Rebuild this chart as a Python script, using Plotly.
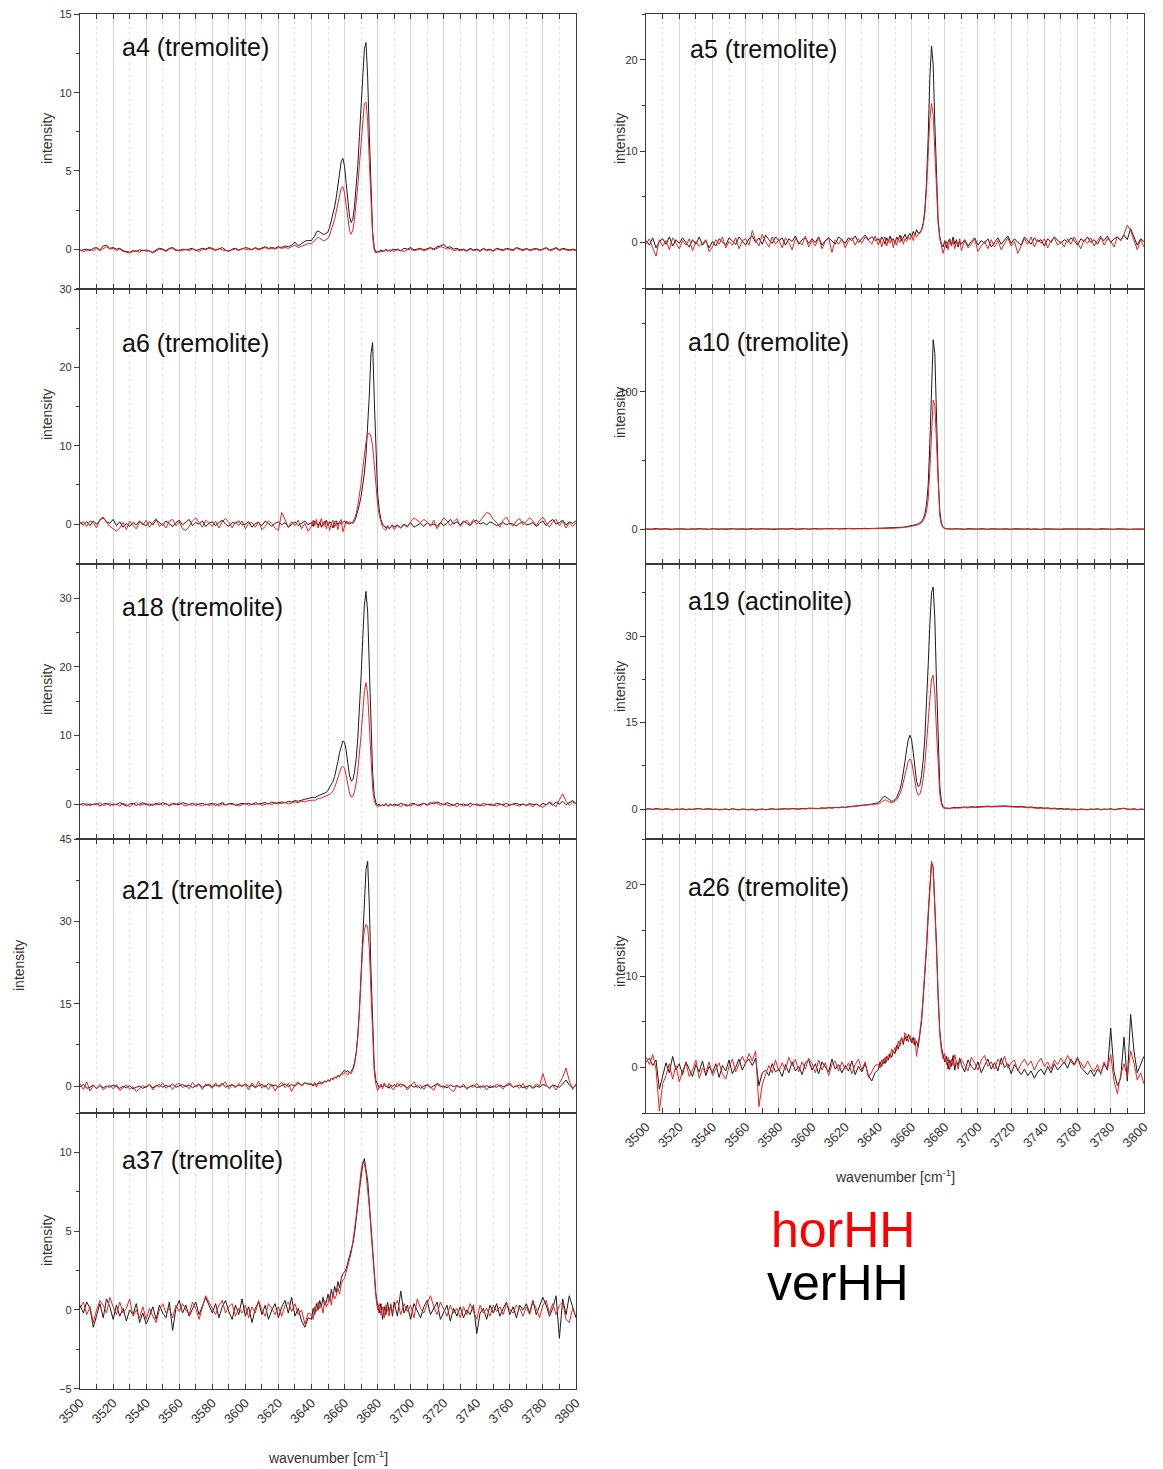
import plotly.graph_objects as go

W, H = 1163, 1469

# ---------------- wavenumber grid (cm^-1) ----------------
WN_LO = [3500, 3502, 3504, 3506, 3508, 3510, 3512, 3514, 3516, 3518,
         3520, 3522, 3524, 3526, 3528, 3530, 3532, 3534, 3536, 3538,
         3540, 3542, 3544, 3546, 3548, 3550, 3552, 3554, 3556, 3558,
         3560, 3562, 3564, 3566, 3568, 3570, 3572, 3574, 3576, 3578,
         3580, 3582, 3584, 3586, 3588, 3590, 3592, 3594, 3596, 3598,
         3600, 3602, 3604, 3606, 3608, 3610, 3612, 3614, 3616, 3618,
         3620, 3622, 3624, 3626, 3628, 3630, 3632, 3634, 3636, 3638]
WN_MID = [3640, 3641, 3642, 3643, 3644, 3645, 3646, 3647, 3648, 3649,
          3650, 3651, 3652, 3653, 3654, 3655, 3656, 3657, 3658, 3659,
          3660, 3661, 3662, 3663, 3664, 3665, 3666, 3667, 3668, 3669,
          3670, 3671, 3672, 3673, 3674, 3675, 3676, 3677, 3678, 3679,
          3680, 3681, 3682, 3683, 3684, 3685, 3686, 3687, 3688, 3689]
WN_HI = [3690, 3692, 3694, 3696, 3698, 3700, 3702, 3704, 3706, 3708,
         3710, 3712, 3714, 3716, 3718, 3720, 3722, 3724, 3726, 3728,
         3730, 3732, 3734, 3736, 3738, 3740, 3742, 3744, 3746, 3748,
         3750, 3752, 3754, 3756, 3758, 3760, 3762, 3764, 3766, 3768,
         3770, 3772, 3774, 3776, 3778, 3780, 3782, 3784, 3786, 3788,
         3790, 3792, 3794, 3796, 3798, 3800]
WAVENUMBER = WN_LO + WN_MID + WN_HI

X_TICKS = [3500, 3520, 3540, 3560, 3580, 3600, 3620, 3640, 3660, 3680,
           3700, 3720, 3740, 3760, 3780, 3800]

# ---------------- a4 ----------------
A4_VER = [
    -0.1, -0.05, 0.0, -0.1, 0.05, 0.1, -0.05, 0.2, 0.25, 0.05,
    0.1, 0.0, 0.05, -0.1, -0.15, -0.2, -0.1, -0.15, -0.05, -0.1,
    -0.05, -0.15, -0.2, -0.05, 0.05, 0.0, -0.1, 0.05, 0.1, -0.05,
    -0.1, 0.0, -0.05, 0.0, 0.05, -0.1, -0.05, 0.05, 0.0, 0.1,
    0.05, -0.05, 0.0, 0.1, -0.05, -0.15, 0.0, 0.05, -0.05, 0.0,
    0.1, 0.05, -0.05, 0.1, 0.0, 0.1, 0.15, 0.05, 0.1, 0.05,
    0.15, 0.1, 0.2, 0.15, 0.25, 0.45, 0.2, 0.35, 0.5, 0.55,
] + [
    0.55, 0.7, 0.85, 1.1, 1.15, 1.1, 1.0, 0.95, 0.95, 1.0,
    1.1, 1.4, 1.8, 2.2, 2.7, 3.3, 4.0, 4.9, 5.6, 5.8,
    5.3, 4.2, 3.0, 2.1, 1.7, 1.9, 2.7, 3.8, 5.3, 7.2,
    9.0, 11.0, 12.8, 13.2, 11.0, 7.3, 3.6, 1.1, 0.1, -0.2,
    -0.15, -0.2, -0.05, -0.15, -0.1, 0.0, -0.1, -0.05, -0.15, 0.0,
] + [
    -0.05, 0.0, -0.1, 0.05, 0.0, 0.1, -0.05, 0.0, 0.05, -0.05,
    0.05, 0.1, 0.0, 0.15, 0.2, 0.3, 0.1, 0.15, 0.0, 0.05,
    -0.05, 0.0, -0.1, 0.05, -0.05, 0.0, -0.1, 0.05, -0.05, 0.0,
    -0.1, 0.05, 0.0, -0.05, 0.05, 0.0, -0.05, 0.1, 0.0, -0.05,
    0.05, -0.05, 0.0, 0.05, -0.05, 0.0, 0.1, -0.05, 0.0, 0.1,
    -0.05, 0.05, 0.0, -0.05, 0.0, -0.05,
]
A4_HOR = [
    -0.05, -0.15, -0.1, 0.0, -0.1, 0.05, -0.1, 0.05, 0.15, 0.0,
    0.05, -0.1, 0.0, -0.15, -0.2, -0.25, -0.15, -0.1, -0.2, -0.05,
    -0.15, -0.1, -0.25, -0.1, 0.0, -0.05, -0.15, 0.0, 0.05, -0.1,
    -0.05, -0.1, 0.0, -0.1, 0.0, -0.05, -0.15, 0.0, -0.05, 0.05,
    0.0, -0.1, 0.05, -0.05, -0.1, -0.1, -0.05, 0.0, -0.1, 0.05,
    0.0, -0.05, 0.0, 0.05, -0.05, 0.05, 0.1, 0.0, 0.05, 0.0,
    0.1, 0.05, 0.1, 0.05, 0.15, 0.25, 0.1, 0.2, 0.3, 0.35,
] + [
    0.35, 0.45, 0.55, 0.7, 0.75, 0.7, 0.6, 0.55, 0.55, 0.6,
    0.7, 0.9, 1.2, 1.5, 1.9, 2.4, 2.9, 3.5, 3.9, 4.0,
    3.6, 2.8, 1.9, 1.2, 0.95, 1.2, 1.9, 2.9, 4.0, 5.4,
    6.8, 8.3, 9.3, 9.4, 8.2, 5.6, 2.8, 0.8, -0.1, -0.25,
    -0.2, -0.1, -0.2, -0.1, -0.15, -0.05, -0.15, -0.1, -0.05, -0.1,
] + [
    -0.15, -0.05, -0.1, -0.15, -0.05, 0.0, -0.1, -0.05, 0.0, -0.1,
    0.0, 0.05, -0.05, 0.05, 0.15, 0.1, 0.0, 0.05, -0.1, -0.05,
    -0.1, -0.05, -0.15, 0.0, -0.1, -0.05, -0.15, 0.0, -0.1, -0.05,
    -0.15, 0.0, -0.05, -0.1, 0.0, -0.05, -0.1, 0.05, -0.05, -0.1,
    0.0, -0.1, -0.05, 0.0, -0.1, -0.05, 0.05, -0.1, -0.05, 0.05,
    -0.1, 0.0, -0.05, -0.1, -0.05, -0.1,
]

# ---------------- a6 ----------------
A6_VER = [
    0.2, -0.1, 0.3, -0.2, 0.4, 0.0, 0.5, 0.8, 0.3, 0.1,
    0.6, -0.2, 0.3, -0.4, 0.1, -0.3, 0.2, -0.1, 0.4, 0.0,
    -0.2, 0.3, -0.1, 0.5, 0.2, -0.2, 0.4, 0.1, -0.3, 0.2,
    0.5, -0.1, 0.3, 0.6, -0.2, 0.2, 0.0, 0.4, -0.3, 0.1,
    0.3, -0.2, 0.2, 0.5, 0.0, -0.3, 0.2, 0.1, 0.4, -0.1,
    0.0, 0.3, -0.4, 0.1, 0.2, -0.2, 0.4, 0.0, -0.3, 0.1,
    0.3, -0.1, 0.2, -0.4, 0.0, 0.3, -0.2, 0.1, 0.4, -0.1,
] + [
    0.2, -0.3, 0.4, 0.1, -0.2, 0.3, -0.4, 0.2, 0.0, 0.5,
    -0.2, 0.3, 0.1, -0.5, 0.2, 0.4, -0.1, 0.3, 0.0, 0.2,
    0.4, 0.1, 0.3, 0.0, 0.2, 0.1, 0.4, 0.9, 1.6, 2.5,
    3.5, 4.8, 6.5, 8.8, 12.0, 16.5, 21.8, 23.2, 16.0, 8.5,
    4.0, 1.8, 0.6, 0.0, -0.3, -0.5, -0.2, -0.6, -0.3, -0.1,
] + [
    -0.4, -0.1, -0.5, 0.0, -0.3, 0.2, -0.4, -0.1, 0.1, -0.3,
    0.2, -0.1, 0.0, -0.3, 0.2, -0.2, 0.1, 0.6, 0.0, 0.3,
    -0.1, 0.4, 0.1, -0.2, 0.3, 0.5, 0.0, 0.2, -0.1, 0.3,
    0.1, -0.2, 0.0, 0.2, -0.1, 0.1, 0.0, -0.2, 0.1, 0.3,
    -0.1, 0.0, 0.2, -0.3, 0.1, 0.4, -0.2, 0.3, 0.6, 0.0,
    0.2, 0.5, -0.1, 0.3, 0.1, 0.4,
]
A6_HOR = [
    0.1, 0.3, -0.3, 0.4, 0.2, -0.5, 0.6, 0.9, 0.2, -0.3,
    -0.6, -0.9, -0.5, 0.2, -0.7, 0.4, -0.2, -0.6, 0.3, -0.1,
    0.5, -0.4, 0.2, 0.7, -0.3, 0.1, -0.5, 0.4, 0.6, -0.2,
    0.3, -0.6, -0.8, -0.3, 0.4, 0.8, 0.2, -0.4, 0.5, 0.1,
    -0.3, 0.4, -0.5, 0.3, 0.7, 0.2, -0.5, 0.3, -0.2, 0.4,
    -0.6, 0.1, 0.2, -0.4, 0.3, -0.7, -0.3, 0.4, 0.1, -0.5,
    -0.8, 1.5, 0.6, -0.4, 0.3, -0.2, 0.5, -0.6, 0.1, -0.9,
] + [
    -0.3, 0.5, -0.2, 0.6, -0.5, 0.2, 0.7, -0.3, 0.4, -0.6,
    0.3, -0.8, 0.1, 0.5, -0.4, 0.2, -0.7, 0.3, 0.6, -1.0,
    -0.2, 0.4, 0.0, 0.3, 0.1, 0.3, 0.7, 1.3, 2.3, 3.6,
    5.2, 7.0, 8.9, 10.5, 11.5, 11.6, 11.2, 10.0, 7.6, 4.8,
    2.6, 1.1, 0.2, -0.4, -0.6, -0.8, -0.3, -0.6, -0.4, -0.2,
] + [
    -0.7, -0.2, -0.5, -0.1, -0.4, 0.3, 0.8, 0.5, 0.2, 0.6,
    0.3, -0.3, 0.5, -0.6, 0.2, 0.8, 0.4, -0.2, 0.3, 0.7,
    -0.3, 0.2, 0.5, -0.1, 0.6, 0.0, 0.4, 0.9, 1.5, 1.3,
    0.6, 0.2, -0.4, 0.5, 0.9, 0.1, -0.3, 0.4, 0.7, -0.1,
    0.3, 0.8, 0.4, -0.2, 0.5, 0.9, 0.2, -0.4, 0.3, 0.6,
    -0.2, 0.4, -0.5, 0.2, -0.3, 0.1,
]

# ---------------- a18 ----------------
A18_VER = [
    -0.1, 0.1, -0.2, 0.0, -0.1, 0.1, -0.3, 0.0, 0.1, -0.2,
    0.0, -0.1, 0.2, -0.1, -0.3, 0.0, 0.1, -0.2, 0.0, 0.2,
    -0.1, 0.0, -0.2, 0.1, -0.1, 0.2, 0.0, -0.2, 0.1, 0.0,
    -0.1, 0.2, 0.0, -0.1, 0.1, -0.2, 0.0, 0.1, -0.1, 0.0,
    0.1, -0.2, 0.0, 0.2, -0.1, 0.0, 0.1, -0.2, 0.0, 0.1,
    0.0, 0.1, -0.1, 0.2, 0.0, 0.1, 0.2, 0.0, 0.3, 0.1,
    0.2, 0.3, 0.2, 0.4, 0.3, 0.5, 0.4, 0.6, 0.7, 0.8,
] + [
    0.9, 1.0, 0.9, 1.1, 1.2, 1.3, 1.4, 1.5, 1.6, 1.7,
    2.0, 2.4, 2.8, 3.3, 4.0, 5.0, 6.2, 7.5, 8.6, 9.2,
    9.0, 7.8, 5.9, 4.2, 3.4, 3.5, 4.6, 6.5, 9.5, 13.5,
    18.5, 24.0, 29.0, 31.0, 28.0, 20.0, 11.0, 4.5, 1.2, 0.2,
    -0.2, 0.0, -0.3, -0.1, -0.2, 0.1, -0.3, -0.1, 0.0, -0.2,
] + [
    0.0, -0.2, 0.1, -0.1, -0.3, 0.0, 0.1, -0.2, 0.0, 0.1,
    -0.1, 0.2, 0.0, 0.3, 0.1, -0.1, 0.2, 0.0, -0.2, 0.1,
    -0.1, 0.0, -0.2, 0.1, -0.1, 0.0, -0.3, 0.1, -0.1, 0.0,
    -0.2, 0.1, 0.0, -0.1, 0.1, -0.2, 0.0, 0.1, -0.1, 0.0,
    -0.2, 0.1, -0.1, 0.0, -0.3, 0.1, -0.1, 0.2, -0.2, 0.3,
    0.0, 0.4, -0.1, 0.2, 0.5, 0.1,
]
A18_HOR = [
    0.0, -0.2, 0.1, -0.3, 0.0, -0.1, 0.2, -0.2, -0.1, 0.1,
    -0.2, 0.0, -0.3, 0.1, -0.1, -0.4, 0.0, 0.2, -0.2, -0.1,
    0.1, -0.3, 0.0, -0.1, 0.2, -0.2, 0.1, -0.3, 0.0, -0.1,
    0.2, -0.1, -0.3, 0.0, -0.2, 0.1, -0.1, -0.3, 0.0, -0.2,
    -0.1, 0.1, -0.3, 0.0, -0.2, 0.1, -0.1, 0.0, -0.3, -0.1,
    0.1, -0.2, 0.0, -0.1, 0.1, -0.2, 0.0, 0.1, -0.1, 0.2,
    0.0, 0.1, 0.2, 0.0, 0.2, 0.3, 0.2, 0.4, 0.3, 0.5,
] + [
    0.5, 0.6, 0.5, 0.7, 0.8, 0.8, 0.9, 1.0, 1.0, 1.1,
    1.2, 1.4, 1.6, 1.9, 2.4, 3.0, 3.8, 4.6, 5.3, 5.5,
    5.2, 4.2, 2.8, 1.6, 1.0, 1.1, 1.8, 3.0, 4.8, 7.2,
    10.0, 13.3, 16.5, 17.7, 16.0, 11.5, 6.0, 2.2, 0.5, -0.2,
    -0.4, -0.2, -0.3, -0.1, -0.3, 0.0, -0.2, -0.3, -0.1, -0.2,
] + [
    -0.3, -0.1, -0.4, 0.0, -0.2, -0.3, 0.0, -0.1, -0.3, 0.1,
    -0.2, 0.0, 0.3, 0.1, -0.2, 0.0, -0.1, -0.3, -0.1, -0.4,
    0.0, -0.3, -0.1, -0.4, 0.0, -0.2, -0.1, -0.3, 0.0, -0.2,
    -0.1, -0.3, 0.0, -0.2, -0.4, -0.1, 0.0, -0.2, -0.3, 0.0,
    -0.2, -0.1, -0.4, 0.0, -0.3, -0.5, -0.1, 0.3, 0.0, -0.4,
    0.6, 1.5, 0.4, -0.2, 0.3, 0.0,
]

# ---------------- a21 ----------------
A21_VER = [
    -0.1, 0.3, -0.4, -0.2, 0.2, -0.5, 0.1, -0.3, 0.0, -0.2,
    0.2, -0.1, -0.4, 0.0, -0.3, 0.1, -0.5, -0.2, 0.0, -0.4,
    -0.1, 0.2, -0.3, 0.0, 0.3, -0.2, 0.1, -0.1, 0.4, -0.2,
    0.0, 0.3, -0.1, 0.2, -0.3, 0.1, 0.4, -0.2, 0.0, 0.3,
    -0.1, 0.2, 0.0, 0.5, -0.2, 0.1, 0.3, -0.1, 0.2, 0.0,
    0.4, -0.1, 0.2, -0.3, 0.1, 0.3, -0.2, 0.5, 0.0, 0.2,
    -0.2, 0.1, 0.4, -0.1, 0.3, 0.0, 0.5, 0.2, 0.6, 0.4,
] + [
    0.3, 0.0, 0.5, 0.2, 0.6, 0.4, 0.7, 0.5, 0.9, 0.8,
    1.1, 1.0, 1.4, 1.3, 1.6, 1.5, 1.9, 1.8, 2.2, 2.6,
    2.9, 2.6, 2.8, 2.4, 2.7, 3.2, 4.2, 6.0, 9.0, 14.0,
    20.0, 27.0, 34.0, 39.5, 41.0, 33.0, 21.0, 10.0, 3.5, 1.0,
    0.2, -0.3, 0.1, -0.2, 0.3, -0.1, 0.0, -0.4, 0.2, -0.1,
] + [
    0.3, -0.1, 0.4, 0.0, -0.3, 0.2, -0.2, 0.1, -0.4, 0.0,
    0.2, -0.3, 0.1, 0.4, -0.1, 0.0, -0.3, 0.2, -0.1, 0.1,
    -0.2, 0.0, -0.4, -0.1, 0.2, -0.3, 0.0, -0.2, 0.1, -0.3,
    0.0, -0.2, 0.2, -0.1, 0.1, 0.3, -0.2, 0.0, 0.2, -0.3,
    -0.1, 0.1, -0.4, 0.0, -0.2, 0.3, 0.1, -0.3, 0.2, 0.0,
    -0.2, 0.4, 1.1, 0.2, -0.3, 0.1,
]
A21_HOR = [
    0.4, -0.6, 0.8, -0.9, 0.1, -0.4, 0.3, -0.7, -0.2, 0.2,
    -0.5, 0.3, -0.8, -0.3, 0.2, -0.6, -0.1, -1.0, -0.4, 0.1,
    -0.3, 0.4, -0.7, 0.2, -0.2, 0.6, -0.4, 0.1, -0.6, 0.3,
    0.5, -0.3, 0.2, -0.5, 0.7, -0.1, 0.3, -0.6, 0.4, 0.1,
    -0.4, 0.6, -0.2, 0.3, 0.8, -0.5, 0.2, -0.3, 0.5, -0.1,
    0.3, -0.7, 0.6, -0.2, 0.9, -0.4, 0.2, -0.6, 0.4, -0.9,
    0.1, 0.7, -0.3, 0.5, -1.0, 0.3, 0.8, 0.0, 0.6, 0.3,
] + [
    0.5, 0.1, 0.7, -0.2, 0.4, 0.9, 0.3, 0.6, 1.0, 0.7,
    1.2, 0.8, 1.5, 1.1, 1.7, 1.4, 2.0, 1.6, 2.3, 2.1,
    2.5, 2.3, 2.0, 2.6, 2.2, 2.9, 3.8, 5.8, 8.8, 13.5,
    19.5, 25.5, 28.5, 29.5, 29.0, 25.0, 17.0, 8.0, 2.5, 0.3,
    -0.8, -0.2, 0.4, -0.5, 0.6, 0.1, -0.3, 0.5, -0.1, -0.6,
] + [
    -0.5, 0.6, -0.2, 0.3, -0.7, 0.1, 0.8, -0.3, 0.2, -0.6,
    0.4, -0.1, -0.8, 0.5, 0.2, -0.4, 0.3, -0.6, -1.0, 0.1,
    -0.3, 0.4, -0.6, 0.0, -0.2, 0.5, -0.4, 0.2, -0.7, 0.1,
    -0.3, 0.4, 0.0, -0.5, 0.3, 0.6, -0.2, 0.1, -0.4, 0.5,
    -0.6, 0.2, -0.3, 0.4, 0.0, 2.3, 0.3, -0.5, 0.1, -0.7,
    0.5, 1.6, 3.3, 1.0, -0.6, 0.4,
]

# ---------------- a37 ----------------
A37_VER = [
    0.3, -0.2, 0.5, 0.1, -1.1, -0.3, 0.4, -0.5, 0.7, 0.2,
    -0.6, 0.3, -0.4, 0.1, -0.7, 0.0, -0.3, 0.4, -0.8, -0.2,
    -0.9, -0.4, 0.2, -0.6, 0.3, -0.2, -0.5, 0.5, -1.3, 0.1,
    0.6, -0.2, 0.3, -0.4, 0.1, 0.5, -0.3, 0.2, 0.8, 0.3,
    -0.2, 0.4, -0.5, 0.2, 0.6, -0.1, -0.6, 0.3, -0.3, 0.7,
    -0.4, 0.2, -0.8, 0.1, 0.5, -0.3, 0.3, -0.6, 0.0, 0.4,
    -0.5, 0.2, 0.6, -0.2, 0.8, -0.4, 0.1, -0.7, -1.1, -0.5,
] + [
    -0.6, 0.1, -0.3, 0.4, 0.0, 0.6, 0.2, 0.8, 0.3, 0.5,
    1.0, 0.6, 1.3, 0.8, 1.5, 1.1, 1.8, 1.4, 2.0, 2.3,
    2.4, 2.6, 3.0, 3.3, 3.7, 4.2, 4.8, 5.6, 6.6, 7.6,
    8.6, 9.2, 9.6, 9.0, 8.2, 6.8, 5.2, 3.6, 2.2, 1.0,
    0.3, -0.2, 0.4, -0.6, 0.2, -0.3, 0.5, -0.1, 0.3, -0.4,
] + [
    0.5, -0.4, 1.2, -0.2, 0.3, -0.6, 0.4, 0.0, -0.5, 0.2,
    0.6, -0.3, 0.1, 0.5, -0.6, -0.2, 0.3, -0.7, 0.1, -0.4,
    0.2, -0.5, 0.0, -0.3, 0.3, -1.5, -0.2, 0.1, -0.6, 0.3,
    -0.2, 0.4, -0.4, 0.1, 0.5, -0.3, 0.2, -0.5, 0.3, 0.0,
    0.4, -0.2, 0.6, -0.3, 0.2, 0.8, 0.3, -0.4, 0.1, 0.9,
    -1.8, 0.7, -0.3, 0.9, 0.2, -0.5,
]
A37_HOR = [
    0.1, 0.5, -0.3, 0.2, -0.8, 0.0, 0.6, 0.3, -0.2, 0.8,
    0.2, -0.3, 0.5, -0.2, 0.1, 0.7, -0.4, 0.0, -0.5, 0.2,
    -0.6, 0.1, -0.4, -0.8, 0.0, 0.4, -0.2, 0.1, -0.5, 0.3,
    -0.1, 0.4, 0.0, -0.3, 0.5, 0.1, -0.6, 0.2, 0.9, 0.5,
    0.1, -0.3, 0.3, 0.6, -0.2, 0.2, 0.4, -0.4, 0.1, -0.2,
    0.3, -0.5, 0.2, -0.2, 0.6, 0.0, -0.4, 0.4, 0.1, -0.3,
    0.2, -0.4, 0.3, 0.5, -0.1, 0.4, -0.3, 0.0, -0.9, -0.2,
] + [
    -0.3, -0.6, 0.2, -0.1, 0.5, 0.1, 0.3, -0.2, 0.6, 0.2,
    0.4, 0.9, 0.3, 1.1, 0.7, 0.9, 1.4, 1.0, 1.6, 1.9,
    2.0, 2.4, 2.7, 3.1, 3.6, 4.3, 5.0, 5.9, 6.9, 7.9,
    8.8, 9.4, 9.3, 8.7, 7.8, 6.5, 5.0, 3.4, 2.0, 0.8,
    0.0, 0.4, -0.3, 0.2, -0.5, 0.3, 0.0, -0.4, 0.4, -0.2,
] + [
    0.2, 0.6, -0.3, 0.4, -0.1, 0.3, -0.5, 0.7, 0.1, -0.2,
    0.4, 0.9, 0.2, -0.3, 0.5, 0.0, -0.4, 0.3, -0.2, 0.1,
    -0.5, 0.2, -0.3, 0.4, -0.1, -0.6, 0.3, -0.2, 0.1, -0.4,
    0.3, -0.1, 0.2, -0.3, 0.4, 0.0, -0.2, 0.3, 0.1, -0.4,
    0.2, -0.3, 0.5, 0.1, -0.5, 0.3, 0.6, -0.2, 0.4, -0.3,
    0.3, 0.5, -0.6, -0.8, 0.1, -0.4,
]

# ---------------- a5 ----------------
A5_VER = [
    0.2, -0.3, 0.5, -0.6, 0.1, 0.4, -0.2, 0.6, -0.4, 0.3,
    -0.1, 0.5, 0.0, -0.5, 0.3, -0.2, 0.6, -0.3, 0.2, -0.6,
    0.1, -0.4, 0.4, 0.0, -0.3, 0.5, 0.2, -0.2, 0.6, 0.1,
    -0.3, 0.4, 0.7, 0.0, 0.5, -0.2, 0.8, 0.3, -0.1, 0.6,
    0.2, 0.5, -0.3, 0.4, 0.1, 0.7, -0.2, 0.3, 0.5, -0.1,
    0.4, 0.0, 0.6, -0.3, 0.2, 0.5, 0.1, -0.2, 0.6, 0.3,
    -0.1, 0.5, 0.2, 0.7, 0.0, 0.4, 0.8, 0.3, 0.6, 0.2,
] + [
    0.4, 0.0, 0.6, 0.3, -0.2, 0.5, 0.1, 0.7, 0.2, 0.4,
    -0.1, 0.6, 0.3, 0.8, 0.2, 0.5, 0.9, 0.4, 0.7, 1.0,
    0.6, 1.2, 0.8, 1.4, 1.0, 1.1, 1.4, 2.1, 3.6, 6.6,
    11.5, 18.0, 21.5, 19.5, 13.0, 6.5, 2.5, 0.6, -0.2, -0.5,
    0.2, -0.6, 0.1, 0.4, -0.3, 0.6, -0.2, 0.3, -0.5, 0.1,
] + [
    -0.2, 0.3, -0.4, 0.1, 0.5, -0.3, 0.2, -0.1, 0.4, -0.5,
    0.0, 0.5, -0.2, 0.3, 0.7, -0.1, 0.4, 0.0, -0.3, 0.6,
    0.2, -0.2, 0.5, 0.1, 0.3, -0.4, 0.4, 0.0, 0.6, 0.2,
    -0.1, 0.3, 0.0, 0.5, 0.2, -0.3, 0.4, 0.1, 0.6, 0.0,
    0.3, -0.2, 0.5, 0.2, 0.7, 0.0, 0.4, 0.6, 0.2, 0.8,
    0.3, 1.5, 0.5, -0.3, 0.4, 0.1,
]
A5_HOR = [
    -0.2, 0.4, -0.6, -1.5, 0.3, -0.4, 0.2, -0.8, 0.5, -0.1,
    -0.7, 0.2, -0.3, 0.4, -0.9, 0.1, -0.4, -0.1, 0.3, -1.0,
    -0.5, 0.3, -0.2, 0.6, -0.6, 0.1, -0.3, 0.5, -0.7, 0.2,
    0.4, -0.3, 1.3, 0.2, -0.4, 0.9, 0.1, -0.5, 0.6, -0.2,
    0.3, -0.6, 0.5, 0.0, -0.8, 0.4, 0.1, -0.3, 0.7, -0.5,
    0.2, -0.4, 0.6, -0.7, 0.1, 0.5, -1.1, 0.3, -0.2, 0.4,
    -0.6, 0.2, 0.5, -0.3, 0.4, -0.1, 0.6, 0.2, -0.2, 0.7,
] + [
    -0.3, 0.4, -0.5, 0.2, 0.6, -0.4, 0.3, -0.1, 0.5, -0.6,
    0.2, -0.3, 0.5, 0.0, 0.7, -0.2, 0.4, 0.1, 0.6, 0.3,
    0.8, 0.2, 1.0, 0.6, 0.9, 1.0, 1.3, 1.9, 3.2, 5.8,
    9.5, 13.5, 15.2, 14.0, 10.0, 5.2, 2.0, 0.4, -0.6, -1.2,
    -0.5, 0.1, -0.8, 0.3, -0.4, 0.2, -0.7, 0.0, -0.3, 0.4,
] + [
    -0.9, 0.2, -0.6, -0.2, 0.4, -1.0, -0.4, 0.1, -0.7, 0.3,
    -0.5, 0.2, -0.8, -0.2, 0.5, -0.4, 0.1, -1.2, -0.3, 0.4,
    -0.2, 0.6, -0.5, 0.3, -0.1, 0.4, -0.6, 0.2, 0.5, -0.3,
    0.1, -0.5, 0.4, -0.2, 0.6, 0.0, -0.7, 0.3, -0.1, 0.5,
    -0.4, 0.2, 0.7, -0.3, 0.4, 0.1, -0.5, 0.6, 0.2, 0.9,
    1.9, 1.3, 0.2, -0.8, 0.3, -0.5,
]

# ---------------- a10 ----------------
A10_VER = [
    0.2, -0.3, 0.1, 0.4, -0.2, 0.0, 0.3, -0.4, 0.1, 0.2,
    -0.1, 0.3, -0.3, 0.0, 0.2, -0.2, 0.4, -0.1, 0.1, -0.3,
    0.3, 0.0, -0.2, 0.2, -0.4, 0.1, 0.3, -0.1, 0.0, 0.2,
    -0.3, 0.1, 0.4, -0.2, 0.0, 0.3, -0.1, 0.2, -0.3, 0.1,
    0.0, 0.3, -0.2, 0.1, 0.4, -0.1, 0.2, 0.0, 0.3, -0.2,
    0.1, 0.4, 0.0, 0.2, -0.1, 0.3, 0.1, 0.4, 0.0, 0.3,
    0.2, 0.5, 0.1, 0.3, 0.4, 0.2, 0.5, 0.3, 0.4, 0.2,
] + [
    0.3, 0.2, 0.4, 0.3, 0.5, 0.4, 0.5, 0.6, 0.5, 0.7,
    0.7, 0.8, 0.9, 1.0, 1.1, 1.3, 1.5, 1.7, 2.0, 2.3,
    2.6, 2.8, 3.0, 3.3, 3.8, 4.5, 5.5, 7.5, 11.0, 18.0,
    32.0, 62.0, 105.0, 138.0, 128.0, 82.0, 38.0, 13.0, 4.0, 1.2,
    0.4, 0.1, 0.2, 0.0, 0.1, -0.1, 0.2, 0.0, -0.1, 0.1,
] + [
    0.1, -0.2, 0.3, 0.0, 0.2, -0.1, 0.3, 0.1, -0.2, 0.2,
    0.0, 0.3, -0.1, 0.2, 0.1, -0.2, 0.3, 0.0, 0.1, -0.1,
    0.2, -0.2, 0.1, 0.0, -0.3, 0.2, 0.1, -0.1, 0.2, 0.0,
    -0.2, 0.1, 0.0, 0.2, -0.1, 0.1, -0.3, 0.0, 0.2, -0.1,
    0.1, -0.2, 0.2, 0.0, -0.1, 0.1, -0.2, 0.2, 0.0, -0.1,
    0.1, -0.2, 0.0, 0.1, -0.1, 0.0,
]
A10_HOR = [
    -0.1, 0.2, -0.4, 0.1, 0.3, -0.2, 0.0, 0.2, -0.3, 0.1,
    0.3, -0.2, 0.1, -0.4, 0.0, 0.2, -0.1, 0.3, -0.2, 0.0,
    -0.3, 0.2, 0.1, -0.2, 0.3, -0.1, 0.0, 0.2, -0.4, 0.1,
    0.2, -0.3, 0.0, 0.3, -0.1, 0.1, 0.2, -0.2, 0.0, 0.3,
    -0.2, 0.1, 0.3, -0.1, 0.0, 0.2, -0.3, 0.1, 0.2, 0.0,
    0.3, -0.1, 0.2, 0.0, 0.3, 0.1, -0.1, 0.2, 0.3, 0.1,
    0.0, 0.3, 0.2, 0.1, 0.4, 0.2, 0.3, 0.1, 0.4, 0.3,
] + [
    0.2, 0.1, 0.3, 0.2, 0.4, 0.3, 0.4, 0.5, 0.4, 0.6,
    0.6, 0.7, 0.7, 0.8, 0.9, 1.0, 1.2, 1.3, 1.5, 1.8,
    2.0, 2.2, 2.4, 2.7, 3.1, 3.7, 4.5, 6.0, 8.5, 13.0,
    22.0, 43.0, 72.0, 94.0, 90.0, 60.0, 28.0, 9.5, 3.0, 0.9,
    0.3, 0.0, 0.1, -0.1, 0.0, 0.1, -0.2, 0.0, 0.1, -0.1,
] + [
    -0.1, 0.1, -0.3, 0.2, -0.1, 0.0, 0.2, -0.2, 0.1, -0.1,
    0.2, -0.1, 0.1, -0.3, 0.0, 0.2, -0.1, 0.1, -0.2, 0.0,
    -0.1, 0.2, -0.2, 0.1, 0.0, -0.1, 0.2, -0.3, 0.0, 0.1,
    0.0, -0.2, 0.1, -0.1, 0.2, -0.2, 0.0, 0.1, -0.3, 0.1,
    -0.1, 0.1, -0.2, 0.0, 0.2, -0.1, 0.0, -0.2, 0.1, 0.0,
    -0.2, 0.0, 0.1, -0.1, 0.0, -0.2,
]

# ---------------- a19 ----------------
A19_VER = [
    0.0, 0.05, -0.05, 0.1, 0.0, -0.05, 0.05, 0.0, -0.1, 0.0,
    -0.05, 0.05, -0.1, 0.0, -0.05, 0.05, 0.1, -0.05, 0.0, 0.05,
    -0.05, 0.0, -0.1, -0.05, 0.0, -0.1, 0.05, -0.05, -0.1, 0.0,
    -0.05, -0.1, 0.0, -0.15, -0.05, 0.0, -0.1, -0.05, 0.05, -0.05,
    0.0, -0.05, 0.05, 0.0, 0.1, 0.05, 0.0, 0.1, 0.05, 0.15,
    0.1, 0.15, 0.1, 0.2, 0.15, 0.25, 0.2, 0.3, 0.25, 0.35,
    0.3, 0.4, 0.45, 0.5, 0.55, 0.6, 0.65, 0.75, 0.85, 0.95,
] + [
    1.1, 1.4, 1.8, 2.1, 2.2, 2.0, 1.7, 1.5, 1.35, 1.4,
    1.6, 2.0, 2.6, 3.4, 4.6, 6.2, 8.2, 10.3, 12.0, 12.8,
    12.0, 9.8, 7.0, 4.8, 3.9, 4.2, 5.8, 8.5, 12.5, 18.0,
    25.0, 32.0, 37.5, 38.5, 33.0, 22.0, 11.0, 4.0, 1.2, 0.4,
    0.2, 0.15, 0.2, 0.1, 0.2, 0.25, 0.2, 0.3, 0.25, 0.3,
] + [
    0.3, 0.35, 0.3, 0.4, 0.35, 0.4, 0.45, 0.4, 0.5, 0.45,
    0.5, 0.45, 0.5, 0.55, 0.5, 0.45, 0.5, 0.4, 0.45, 0.35,
    0.3, 0.35, 0.25, 0.2, 0.25, 0.15, 0.2, 0.1, 0.15, 0.05,
    0.1, 0.0, 0.05, -0.05, 0.0, -0.1, 0.0, -0.05, -0.1, 0.0,
    -0.05, 0.05, -0.1, 0.0, -0.05, 0.05, -0.1, 0.0, 0.05, 0.15,
    0.0, -0.05, 0.05, -0.1, 0.0, -0.05,
]
A19_HOR = [
    -0.05, 0.0, -0.1, 0.0, -0.05, -0.1, 0.0, -0.05, -0.15, -0.05,
    -0.1, 0.0, -0.15, -0.05, -0.1, 0.0, 0.05, -0.1, -0.05, 0.0,
    -0.1, -0.05, -0.15, -0.1, -0.05, -0.15, 0.0, -0.1, -0.15, -0.05,
    -0.1, -0.15, -0.05, -0.2, -0.1, -0.05, -0.15, -0.1, 0.0, -0.1,
    -0.05, -0.1, 0.0, -0.05, 0.05, 0.0, -0.05, 0.05, 0.0, 0.1,
    0.05, 0.1, 0.05, 0.15, 0.1, 0.2, 0.15, 0.25, 0.2, 0.3,
    0.25, 0.35, 0.4, 0.45, 0.5, 0.55, 0.6, 0.65, 0.75, 0.8,
] + [
    0.9, 1.1, 1.3, 1.5, 1.6, 1.5, 1.3, 1.15, 1.1, 1.15,
    1.3, 1.6, 2.0, 2.6, 3.4, 4.5, 5.8, 7.2, 8.3, 8.7,
    8.2, 6.6, 4.7, 3.1, 2.4, 2.6, 3.6, 5.3, 7.8, 11.2,
    15.5, 19.5, 22.6, 23.2, 20.0, 13.5, 6.8, 2.5, 0.8, 0.2,
    0.1, 0.05, 0.15, 0.05, 0.1, 0.2, 0.1, 0.2, 0.15, 0.2,
] + [
    0.2, 0.25, 0.2, 0.3, 0.25, 0.3, 0.35, 0.3, 0.4, 0.35,
    0.4, 0.35, 0.4, 0.45, 0.4, 0.35, 0.4, 0.3, 0.35, 0.25,
    0.2, 0.25, 0.15, 0.1, 0.15, 0.05, 0.1, 0.0, 0.05, -0.05,
    0.0, -0.1, -0.05, -0.15, -0.1, -0.15, -0.05, -0.1, -0.15, -0.05,
    -0.1, 0.0, -0.15, -0.05, -0.1, 0.0, -0.15, -0.05, 0.0, 0.1,
    -0.05, -0.1, 0.0, -0.15, -0.05, -0.1,
]

# ---------------- a26 ----------------
A26_VER = [
    0.6, 1.0, 0.2, 0.8, -2.4, -0.8, 0.5, -0.6, 1.2, -0.3,
    0.4, -0.8, 0.6, -0.2, -1.0, 0.3, -0.5, 0.7, -0.9, 0.1,
    -0.6, 0.4, -1.1, 0.2, -0.4, 0.8, -0.7, 0.0, 0.9, -0.3,
    0.5, 0.9, 0.2, 1.0, -2.0, -0.6, -0.3, -0.9, 0.4, -0.5,
    -0.2, -1.0, 0.3, -0.6, 0.6, -0.4, 0.1, -0.8, 0.5, 0.8,
    -0.3, 0.4, -0.7, 0.6, 0.0, -0.5, 0.9, -0.2, 0.3, -0.6,
    0.2, -0.4, 0.7, -0.8, 0.1, -0.5, 0.4, -0.9, -1.5, -0.6,
] + [
    -0.2, 0.6, 0.1, 0.9, 0.4, 1.2, 0.8, 1.5, 1.1, 1.8,
    1.5, 2.4, 2.0, 2.8, 3.2, 2.5, 3.4, 2.9, 3.6, 3.1,
    2.7, 3.3, 2.4, 2.9, 2.2, 3.6, 5.0, 7.5, 10.0, 13.0,
    16.5, 20.0, 22.3, 22.0, 18.5, 13.5, 8.0, 4.0, 2.2, 1.4,
    0.6, 1.2, -0.2, 0.8, 0.1, 1.3, -0.3, 0.7, 0.2, 1.0,
] + [
    0.3, -0.5, 0.8, 0.1, -0.3, 0.6, -0.6, 0.2, 0.9, -0.2,
    0.5, -0.4, 1.0, 0.0, 0.4, -0.7, 0.3, -0.3, -0.8, -0.2,
    -0.9, -0.4, -1.2, -0.5, -0.2, -0.8, 0.1, -0.6, 0.4, -0.3,
    0.2, 0.6, -0.1, 0.9, 0.3, 1.1, 0.0, -0.4, -0.8, -0.3,
    -1.0, -0.2, -0.6, 0.4, -0.3, 4.3, -0.5, -2.0, -1.2, 3.3,
    -1.5, 5.8, 1.8, -0.6, 0.4, 1.2,
]
A26_HOR = [
    1.1, 0.3, 1.4, -0.2, -4.8, -1.8, -0.9, 0.4, -1.3, 0.2,
    -1.6, -0.4, 0.5, -1.0, -0.3, 0.8, -1.2, -0.1, -0.6, 0.6,
    -0.9, -0.2, 0.5, -0.7, -1.3, 0.1, 0.9, -0.5, 0.3, 1.2,
    0.4, 1.5, 0.7, 1.8, -4.3, -1.9, -0.8, 0.2, -0.6, 0.8,
    -0.4, 0.5, -0.3, 1.1, 0.2, 0.9, -0.5, 0.6, -0.2, 1.0,
    0.4, -0.6, 0.8, -0.3, 0.5, -0.9, 0.3, 0.7, -0.4, 0.6,
    -0.2, 0.5, -0.7, 0.3, 0.9, -0.3, 0.6, -1.1, -0.5, 0.2,
] + [
    0.3, -0.1, 0.8, 0.4, 1.1, 0.6, 1.4, 1.0, 2.0, 1.6,
    2.2, 1.8, 2.9, 2.3, 3.3, 2.7, 3.8, 3.2, 2.8, 3.5,
    3.0, 2.6, 3.2, 1.2, 2.5, 3.9, 5.4, 7.9, 10.5, 13.5,
    17.0, 20.5, 22.6, 21.8, 18.0, 12.8, 7.4, 3.5, 1.8, 0.9,
    1.5, 0.3, 1.1, -0.3, 0.9, 0.2, 1.4, 0.5, -0.2, 0.8,
] + [
    0.9, 0.2, -0.4, 1.1, 0.5, -0.3, 0.8, 1.3, 0.1, 0.6,
    -0.2, 0.9, 0.3, 1.2, -0.1, 0.5, 0.8, -0.4, 0.4, 0.9,
    0.2, 0.7, -0.3, 0.5, 1.0, 0.1, 0.6, -0.2, 0.8, 0.3,
    1.0, 0.4, 1.3, 0.6, 0.2, 0.9, 0.5, -0.1, 0.7, 0.0,
    -0.5, 0.3, -0.8, 0.6, -0.2, 1.4, -1.5, -2.9, -0.8, 0.4,
    -1.0, 1.8, 0.5, -1.4, -0.6, -1.8,
]

PANEL_TITLES = ["a4 (tremolite)", "a6 (tremolite)", "a18 (tremolite)", "a21 (tremolite)",
                "a37 (tremolite)", "a5 (tremolite)", "a10 (tremolite)", "a19 (actinolite)",
                "a26 (tremolite)"]
VER_SERIES = [A4_VER, A6_VER, A18_VER, A21_VER, A37_VER, A5_VER, A10_VER, A19_VER, A26_VER]
HOR_SERIES = [A4_HOR, A6_HOR, A18_HOR, A21_HOR, A37_HOR, A5_HOR, A10_HOR, A19_HOR, A26_HOR]

bad = []
for t, v, h in zip(PANEL_TITLES, VER_SERIES, HOR_SERIES):
    if len(v) != len(WAVENUMBER):
        bad.append(f"{t} ver {len(v)}")
    if len(h) != len(WAVENUMBER):
        bad.append(f"{t} hor {len(h)}")
if bad:
    raise ValueError("length mismatch (need %d): %s" % (len(WAVENUMBER), "; ".join(bad)))

# ---------------- layout (pixels) ----------------
COLS = [(80, 576), (646, 1144)]
# col, top, bottom, y-range, dtick, minor dtick, title center y, intensity-label x, y
LAYOUT = [
    (0, 14, 289, [-2.55, 15.03], 5, 2.5, 47, 47, 139),
    (0, 289, 564, [-5.1, 30.05], 10, 5, 343, 47, 415),
    (0, 564, 839, [-5.1, 35], 10, 5, 607, 47, 690),
    (0, 839, 1113, [-4.9, 45.05], 15, 7.5, 890, 19, 966),
    (0, 1113, 1389, [-5.02, 12.5], 5, 2.5, 1160, 47, 1241),
    (1, 14, 289, [-5.1, 25], 10, 5, 49, 620, 139),
    (1, 289, 564, [-25.5, 175], 100, 50, 342, 620, 413),
    (1, 564, 839, [-5.2, 42.5], 15, 7.5, 601, 620, 687),
    (1, 839, 1113, [-5.0, 25], 10, 5, 887, 620, 962),
]
BOTTOM = {4, 8}
TITLE_X = [120, 120, 120, 120, 120, 688, 686, 686, 686]

FONT = "Liberation Sans, Arial, sans-serif"
AX = "#3a3a3a"
TXT = "#333333"


def px(x):
    return x / W


def py(y):
    return 1 - y / H


fig = go.Figure()
annotations = []
layout = dict(
    template="none",
    width=W, height=H, margin=dict(l=0, r=0, t=0, b=0, pad=0, autoexpand=False),
    paper_bgcolor="white", plot_bgcolor="white", showlegend=False,
    font=dict(family=FONT, color=TXT),
)

for i, (col, top, bot, yr, dt, mdt, ty, lx, ly) in enumerate(LAYOUT):
    n = i + 1
    xa = "x" if n == 1 else f"x{n}"
    ya = "y" if n == 1 else f"y{n}"
    fig.add_trace(go.Scatter(x=WAVENUMBER, y=VER_SERIES[i], mode="lines", xaxis=xa, yaxis=ya,
                             line=dict(color="#1c1c1c", width=1), name="verHH"))
    fig.add_trace(go.Scatter(x=WAVENUMBER, y=HOR_SERIES[i], mode="lines", xaxis=xa, yaxis=ya,
                             line=dict(color="#f02020", width=1), name="horHH"))
    x0, x1 = COLS[col]
    layout["xaxis" if n == 1 else f"xaxis{n}"] = dict(
        domain=[px(x0), px(x1)], anchor=ya, range=[3499.95, 3800.05], automargin=False,
        tickmode="array", tickvals=X_TICKS,
        showticklabels=(i in BOTTOM), tickangle=-45,
        tickfont=dict(size=13, color=TXT, family=FONT),
        ticks="inside", ticklen=5, tickcolor=AX, tickwidth=1,
        showline=True, linecolor=AX, linewidth=1.3, mirror="ticks",
        showgrid=True, gridcolor="#d6d6d6", gridwidth=1, zeroline=False,
        minor=dict(dtick=10, tick0=3500, ticks="inside", ticklen=5, tickcolor=AX,
                   showgrid=True, gridcolor="#e2e2e2", griddash="dot", gridwidth=1),
    )
    layout["yaxis" if n == 1 else f"yaxis{n}"] = dict(
        domain=[py(bot), py(top)], anchor=xa, range=yr, automargin=False,
        tick0=0, dtick=dt, ticks="outside", ticklen=5, tickcolor=AX, tickwidth=1,
        tickfont=dict(size=11, color=TXT, family=FONT),
        showline=True, linecolor=AX, linewidth=1.3, mirror=True,
        showgrid=False, zeroline=False,
        minor=dict(dtick=mdt, tick0=0, ticks="outside", ticklen=3, tickcolor=AX),
    )
    annotations.append(dict(text=PANEL_TITLES[i], xref="paper", yref="paper",
                            x=px(TITLE_X[i]), y=py(ty), xanchor="left", yanchor="middle",
                            showarrow=False, font=dict(size=25, color="#111111", family=FONT)))
    annotations.append(dict(text="intensity", xref="paper", yref="paper",
                            x=px(lx), y=py(ly), xanchor="center", yanchor="middle",
                            textangle=-90, showarrow=False,
                            font=dict(size=14, color=TXT, family=FONT)))

for cx, cy in [(328, 1457), (895, 1176)]:
    annotations.append(dict(text="wavenumber [cm<sup>-1</sup>]", xref="paper", yref="paper",
                            x=px(cx), y=py(cy), xanchor="center", yanchor="middle",
                            showarrow=False, font=dict(size=14, color=TXT, family=FONT)))

annotations.append(dict(text="horHH", xref="paper", yref="paper", x=px(843), y=py(1230),
                        xanchor="center", yanchor="middle", showarrow=False,
                        font=dict(size=50, color="#ff0000", family=FONT)))
annotations.append(dict(text="verHH", xref="paper", yref="paper", x=px(838), y=py(1283),
                        xanchor="center", yanchor="middle", showarrow=False,
                        font=dict(size=50, color="#000000", family=FONT)))

layout["annotations"] = annotations
fig.update_layout(**layout)
fig.write_html("out.html")
